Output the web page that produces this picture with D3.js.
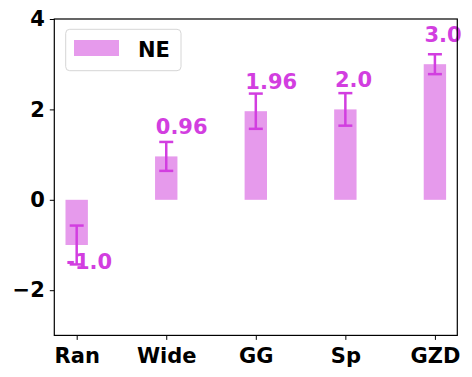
<!DOCTYPE html>
<html><head><meta charset="utf-8">
<script src="https://cdn.jsdelivr.net/npm/d3@7"></script>
<style>html,body{margin:0;padding:0;background:#fff}svg{display:block}</style>
</head><body>
<script>
const categories = ["Ran", "Wide", "GG", "Sp", "GZD"];
const values = [-1.0, 0.96, 1.96, 2.0, 3.0];
const errors = [0.43, 0.32, 0.39, 0.36, 0.22];
const labels = ["-1.0", "0.96", "1.96", "2.0", "3.0"];
const yTicks = [-2, 0, 2, 4];
const seriesName = "NE";

const W = 472, H = 377;
const mLeft = 54.3, mRight = 457.3, mTop = 19, mBottom = 335.4;
const font = "'DejaVu Sans', sans-serif";
const barColor = "#e69aec", accent = "#d23ee0";

const svg = d3.select("body").append("svg").attr("width", W).attr("height", H);

const x = d3.scaleLinear().domain([-0.25, categories.length - 0.75]).range([mLeft, mRight]);
const y = d3.scaleLinear().domain([-3, 4]).range([mBottom, mTop]);
const bw = x(0.25) - x(0);

// bars
svg.selectAll("rect.bar").data(values).join("rect")
  .attr("x", (d, i) => x(i) - bw / 2)
  .attr("y", d => y(Math.max(0, d)))
  .attr("width", bw)
  .attr("height", d => Math.abs(y(d) - y(0)))
  .attr("fill", barColor);

// error bars
const eg = svg.append("g").attr("stroke", accent).attr("stroke-width", 2.5).attr("fill", "none");
values.forEach((v, i) => {
  const cx = x(i), y1 = y(v + errors[i]), y2 = y(v - errors[i]);
  eg.append("line").attr("x1", cx).attr("x2", cx).attr("y1", y1).attr("y2", y2);
  eg.append("line").attr("x1", cx - 7).attr("x2", cx + 7).attr("y1", y1).attr("y2", y1);
  eg.append("line").attr("x1", cx - 7).attr("x2", cx + 7).attr("y1", y2).attr("y2", y2);
});

// value labels
svg.selectAll("text.val").data(values).join("text")
  .attr("x", (d, i) => x(i - 0.1) - 1.5)
  .attr("y", d => d >= 0 ? y(d + 0.485) : y(d - 0.53))
  .attr("fill", accent)
  .attr("font-family", font).attr("font-weight", "bold").attr("font-size", 21)
  .text((d, i) => labels[i]);

// axes
const xAxis = d3.axisBottom(x).tickValues(d3.range(categories.length))
  .tickFormat(i => categories[i]).tickSize(4.5).tickSizeOuter(0);
const gx = svg.append("g").attr("transform", `translate(0,${mBottom})`).call(xAxis);
gx.selectAll("text").attr("font-family", font).attr("font-weight", "bold")
  .attr("font-size", 21).attr("fill", "#000").attr("dy", "0.95em");

const yAxis = d3.axisLeft(y).tickValues(yTicks)
  .tickFormat(d => d < 0 ? "\u2212" + Math.abs(d) : d).tickSize(4.5).tickSizeOuter(0);
const gy = svg.append("g").attr("transform", `translate(${mLeft},0)`).call(yAxis);
gy.selectAll("text").attr("font-family", font).attr("font-weight", "bold")
  .attr("font-size", 21).attr("fill", "#000").attr("x", -9.5);

[gx, gy].forEach(g => {
  g.select(".domain").remove();
  g.selectAll(".tick line").attr("stroke", "#000").attr("stroke-width", 1);
});

// frame
svg.append("rect").attr("x", mLeft).attr("y", mTop).attr("width", mRight - mLeft).attr("height", mBottom - mTop)
  .attr("fill", "none").attr("stroke", "#000").attr("stroke-width", 1.2);

// legend
const lg = svg.append("g");
lg.append("rect").attr("x", 65.7).attr("y", 29.3).attr("width", 115.3).attr("height", 41.4)
  .attr("rx", 4).attr("fill", "#fff").attr("stroke", "#d6d6d6").attr("stroke-width", 1);
lg.append("rect").attr("x", 74).attr("y", 40).attr("width", 45).attr("height", 16).attr("fill", barColor);
lg.append("text").attr("x", 138).attr("y", 57).attr("font-family", font).attr("font-weight", "bold")
  .attr("font-size", 21).attr("fill", "#000").text(seriesName);
</script>
</body></html>
